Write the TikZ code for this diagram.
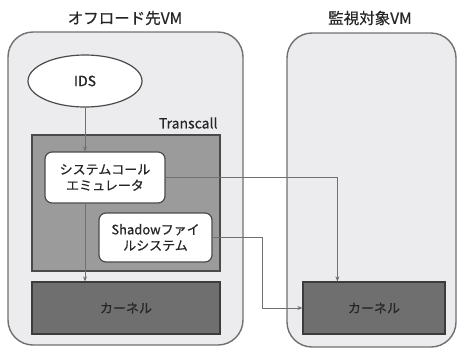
\documentclass[tikz,border=0pt]{standalone}
\usepackage{fontspec}
\setmainfont{Noto Sans CJK JP}[UprightFeatures={FakeBold=0.5}]
\usetikzlibrary{arrows.meta,shapes.geometric}
\definecolor{vmfill}{HTML}{ECECEF}
\definecolor{vmline}{HTML}{707070}
\definecolor{tcfill}{HTML}{9B9B9B}
\definecolor{tcline}{HTML}{4A4A4A}
\definecolor{knfill}{HTML}{6F6F6F}
\definecolor{knline}{HTML}{3C3C3C}
\definecolor{arrcol}{HTML}{707070}
\definecolor{txt}{HTML}{262626}
\tikzset{
  vmbox/.style={draw=vmline,fill=vmfill,line width=1.4pt,rounded corners=25pt,inner sep=0pt},
  tcbox/.style={draw=tcline,fill=tcfill,line width=1.2pt,inner sep=0pt},
  knbox/.style={draw=knline,fill=knfill,line width=1.2pt,inner sep=0pt,font=\fontsize{13}{15}\selectfont,text=txt},
  wbox/.style={draw=tcline,fill=white,line width=1.2pt,rounded corners=7pt,inner sep=0pt,align=center,font=\fontsize{13}{16}\selectfont,text=txt},
  ttl/.style={font=\fontsize{15.5}{18}\selectfont,text=txt},
  lbl/.style={font=\fontsize{14}{16}\selectfont,text=txt},
  arr/.style={draw=arrcol,line width=0.8pt,-{Stealth[length=5pt,width=4pt]}}
}
\begin{document}
\begin{tikzpicture}[x=1pt,y=-1pt]
\useasboundingbox (0,0) rectangle (458,349);
\node[vmbox,minimum width=235pt,minimum height=313pt] (vml) at (125.5,188.5) {};
\node[vmbox,minimum width=169pt,minimum height=314pt] (vmr) at (371.5,190) {};
\node[ttl] (tl) at (125,18) {オフロード先VM};
\node[ttl] (tr) at (370,18) {監視対象VM};
\node[ellipse,draw=tcline,fill=white,line width=1.2pt,minimum width=114pt,minimum height=52pt,inner sep=0pt,lbl] (ids) at (85,81) {IDS};
\node[lbl,anchor=east] (tcl) at (221,123) {Transcall};
\node[tcbox,minimum width=188pt,minimum height=136pt] (tc) at (126,203) {};
\node[knbox,minimum width=188pt,minimum height=52pt] (kl) at (126,308) {カーネル};
\node[knbox,minimum width=142pt,minimum height=52pt] (kr) at (374,308) {カーネル};
\node[wbox,minimum width=120pt,minimum height=51pt] (sys) at (105,177.5) {システムコール\\エミュレータ};
\node[wbox,minimum width=113pt,minimum height=49pt] (sh) at (155.5,237.5) {Shadowファイ\\ルシステム};
\draw[arr] (ids.south) -- (ids.south |- sys.north);
\draw[arr] (ids.south |- sys.south) -- (ids.south |- kl.north);
\draw[arr] (sys.east) -| ([xshift=35pt]kr.north west);
\draw[arr] (sh.east) -- ++(50pt,0) |- (kr.west);
\end{tikzpicture}
\end{document}
